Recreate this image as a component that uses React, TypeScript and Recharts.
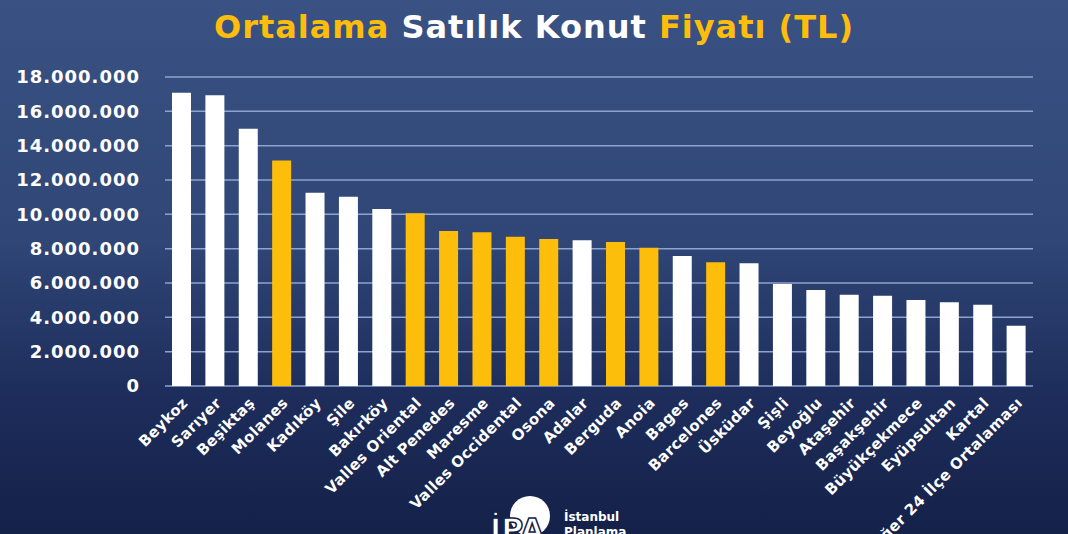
import { BarChart, Bar, XAxis, YAxis, CartesianGrid, Cell } from 'recharts';

const districts = [
  'Beykoz', 'Sarıyer', 'Beşiktaş', 'Molanes', 'Kadıköy', 'Şile', 'Bakırköy',
  'Valles Oriental', 'Alt Penedes', 'Maresme', 'Valles Occidental', 'Osona',
  'Adalar', 'Berguda', 'Anoia', 'Bages', 'Barcelones', 'Üsküdar', 'Şişli',
  'Beyoğlu', 'Ataşehir', 'Başakşehir', 'Büyükçekmece', 'Eyüpsultan', 'Kartal',
  'Diğer 24 İlçe Ortalaması',
];

const prices = [
  17080000, 16930000, 14990000, 13140000, 11260000, 11030000, 10310000,
  10060000, 9030000, 8950000, 8700000, 8560000, 8490000, 8390000, 8060000,
  7570000, 7210000, 7150000, 5940000, 5590000, 5320000, 5260000, 5010000,
  4880000, 4740000, 3510000,
];

// Barcelona comarques are highlighted in yellow
const barcelonaAreas = [
  'Molanes', 'Valles Oriental', 'Alt Penedes', 'Maresme', 'Valles Occidental',
  'Osona', 'Berguda', 'Anoia', 'Barcelones',
];

const yTicks = [0, 2000000, 4000000, 6000000, 8000000, 10000000, 12000000, 14000000, 16000000, 18000000];

const data = districts.map((name, i) => ({ name, price: prices[i] }));

const YELLOW = '#fdbd0b';
const FONT = '"DejaVu Sans", sans-serif';

const fmt = (v: number) => String(v).replace(/\B(?=(\d{3})+(?!\d))/g, '.');

function XTick({ x, y, payload }: any) {
  return (
    <g transform={`translate(${x + 7},${y + 10})`}>
      <text
        x={0}
        y={0}
        textAnchor="end"
        transform="rotate(-45)"
        fill="#fff"
        fontFamily={FONT}
        fontWeight="bold"
        fontSize={15}
        letterSpacing={0.3}
      >
        {payload.value}
      </text>
    </g>
  );
}

export default function App() {
  return (
    <div
      style={{
        position: 'absolute',
        left: 0,
        top: 0,
        width: 1068,
        height: 534,
        overflow: 'hidden',
        background: 'linear-gradient(180deg, #3a5283 0%, #2f4676 45%, #1d2c5a 75%, #142149 100%)',
      }}
    >
      <div
        style={{
          position: 'absolute',
          top: 8,
          width: 1068,
          textAlign: 'center',
          fontFamily: FONT,
          fontWeight: 'bold',
          fontSize: 32,
          letterSpacing: 1,
          color: '#fff',
        }}
      >
        <span style={{ color: YELLOW }}>Ortalama</span> Satılık Konut{' '}
        <span style={{ color: YELLOW }}>Fiyatı (TL)</span>
      </div>
      <BarChart
        width={1068}
        height={534}
        data={data}
        margin={{ top: 77, right: 35, left: 0, bottom: 48 }}
        barCategoryGap={7}
      >
        <CartesianGrid vertical={false} stroke="#8ea4cf" strokeWidth={1.5} />
        <XAxis
          dataKey="name"
          interval={0}
          axisLine={false}
          tickLine={false}
          height={100}
          tick={<XTick />}
        />
        <YAxis
          domain={[0, 18000000]}
          ticks={yTicks}
          width={165}
          axisLine={false}
          tickLine={false}
          tickSize={0}
          tickMargin={25}
          tickFormatter={fmt}
          tick={{ fill: '#fff', fontFamily: FONT, fontWeight: 'bold', fontSize: 18, letterSpacing: 1 }}
        />
        <Bar dataKey="price" isAnimationActive={false}>
          {data.map((d) => (
            <Cell key={d.name} fill={barcelonaAreas.includes(d.name) ? YELLOW : '#ffffff'} />
          ))}
        </Bar>
      </BarChart>
      <svg style={{ position: 'absolute', left: 480, top: 488 }} width={160} height={46}>
        <circle cx={50} cy={28} r={20} fill="#fff" />
        <text x={10} y={52} fill="#fff" stroke="#142149" strokeWidth={1.5} fontFamily={FONT} fontWeight="bold" fontSize={30}>
          İPA
        </text>
        <text x={84} y={33} fill="#fff" fontFamily={FONT} fontWeight="bold" fontSize={12}>
          İstanbul
        </text>
        <text x={84} y={48} fill="#fff" fontFamily={FONT} fontWeight="bold" fontSize={12}>
          Planlama
        </text>
      </svg>
    </div>
  );
}
